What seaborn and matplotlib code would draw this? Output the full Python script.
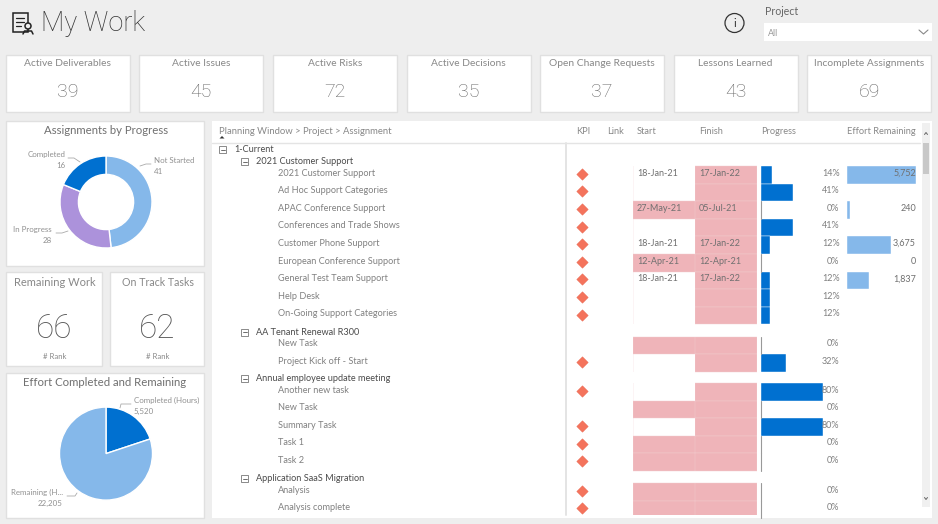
import matplotlib
matplotlib.use('Agg')
import matplotlib.pyplot as plt
from matplotlib.patches import Rectangle, Circle, Polygon
import seaborn as sns

W, H = 938, 524

# KPI cards
card_titles = ['Active Deliverables', 'Active Issues', 'Active Risks', 'Active Decisions',
               'Open Change Requests', 'Lessons Learned', 'Incomplete Assignments']
card_values = [39, 45, 72, 35, 37, 43, 69]

# donut and pie
progress_names = ['Not Started', 'In Progress', 'Completed']
progress_counts = [41, 28, 16]
effort_names = ['Completed (Hours)', 'Remaining (H...']
effort_hours = [5520, 22205]

# matrix
group_names = ['2021 Customer Support', 'AA Tenant Renewal R300',
               'Annual employee update meeting', 'Application SaaS Migration']
group_tasks = [
    ['2021 Customer Support', 'Ad Hoc Support Categories', 'APAC Conference Support',
     'Conferences and Trade Shows', 'Customer Phone Support', 'European Conference Support',
     'General Test Team Support', 'Help Desk', 'On-Going Support Categories'],
    ['New Task', 'Project Kick off - Start'],
    ['Another new task', 'New Task', 'Summary Task', 'Task 1', 'Task 2'],
    ['Analysis', 'Analysis complete'],
]
start_labels = ['18-Jan-21', '', '27-May-21', '', '18-Jan-21', '12-Apr-21', '18-Jan-21', '', '',
                '', '', '', '', '', '', '', '', '']
finish_labels = ['17-Jan-22', '', '05-Jul-21', '', '17-Jan-22', '12-Apr-21', '17-Jan-22', '', '',
                 '', '', '', '', '', '', '', '', '']
start_late = [0, 0, 1, 0, 0, 1, 0, 0, 0, 1, 0, 0, 1, 0, 1, 1, 1, 1]
finish_late = [1] * 18
kpi_flag = [1, 1, 1, 1, 1, 1, 1, 1, 1, 0, 1, 1, 0, 1, 1, 1, 1, 1]
progress_pct = [14, 41, 0, 41, 12, 0, 12, 12, 12, 0, 32, 80, 0, 80, 0, 0, 0, 0]
effort_remaining = [5752, 0, 240, 0, 3675, 0, 1837, 0, 0, 0, 0, 0, 0, 0, 0, 0, 0, 0]
effort_labels = ['5,752', '', '240', '', '3,675', '0', '1,837', '', '',
                 '', '', '', '', '', '', '', '', '']

BG = '#EEEEEE'
BLUE = '#0070D0'
LIGHT_BLUE = '#85B8EA'
PURPLE = '#AC92DB'
PINK = '#EFB4B9'
DIAMOND = '#F4735C'
GREY = '#808080'
DARK = '#4A4A4A'

sns.set_theme(style='white')
plt.rcParams['font.family'] = ['Lato', 'DejaVu Sans']

fig = plt.figure(figsize=(W / 100, H / 100), dpi=100, facecolor=BG)


def px_axes(x0, y0, x1, y1):
    ax = fig.add_axes([x0 / W, 1 - y1 / H, (x1 - x0) / W, (y1 - y0) / H])
    ax.patch.set_alpha(0)
    return ax


def clean(ax):
    ax.set_xlabel('')
    ax.set_ylabel('')
    ax.set_xticks([])
    ax.set_yticks([])
    for s in ax.spines.values():
        s.set_visible(False)


# whole figure in pixel coords for panels and text
base = px_axes(0, 0, W, H)
base.set_xlim(0, W)
base.set_ylim(H, 0)
base.axis('off')


def panel(x0, y0, x1, y1, edge='#E0E0E0'):
    base.add_patch(Rectangle((x0, y0), x1 - x0, y1 - y0, fc='white', ec=edge, lw=1))


def txt(x, y, s, size=6.4, color=GREY, ha='left', **kw):
    base.text(x, y + 0.8, s, fontsize=size, color=color, ha=ha, va='center', **kw)


BIG = {'family': 'Roboto', 'fontweight': 'light'}

# header
txt(41, 23, 'My Work', size=19.5, color='#333333', **BIG)
base.add_patch(Rectangle((12.5, 13), 15, 19, fc='none', ec='#222222', lw=1.1))
base.plot([16, 24], [18, 18], color='#222222', lw=0.9)
base.plot([16, 24], [22, 22], color='#222222', lw=0.9)
base.plot([16, 21], [26, 26], color='#222222', lw=0.9)
base.add_patch(Circle((28, 26), 3, fc=BG, ec='#222222', lw=1.1))
base.plot([23, 24.5, 31.5, 33], [34, 31, 31, 34], color='#222222', lw=1.1)
base.add_patch(Circle((734.5, 23), 9.5, fc='none', ec='#333333', lw=0.9))
txt(734.5, 23, 'i', size=8, color='#333333', ha='center')
txt(765, 10.5, 'Project', size=7.6, color='#666666')
base.add_patch(Rectangle((764, 23), 168, 18, fc='white', ec='none'))
txt(768, 33, 'All', size=6.4, color='#999999')
base.plot([919, 923.5, 928], [30, 34, 30], color='#888888', lw=0.8)

# cards
card_x = [6, 139, 273, 406.5, 540, 673.5, 807]
for x, title, value in zip(card_x, card_titles, card_values):
    panel(x, 55, x + 124, 112)
    txt(x + 62, 63, title, size=7.4, color='#888888', ha='center')
    txt(x + 62, 91, str(value), size=14, color='#666666', ha='center', **BIG)

# left panels
panel(6, 121, 204, 266)
panel(6, 272, 102, 366)
panel(110, 272, 204, 366)
panel(6, 373, 204, 518)
panel(212, 121, 932, 518, edge='none')
txt(106, 129.5, 'Assignments by Progress', size=8.2, color='#707070', ha='center')
txt(54.5, 282, 'Remaining Work', size=8, color='#888888', ha='center')
txt(158, 282, 'On Track Tasks', size=7.7, color='#888888', ha='center')
txt(54.5, 328, '66', size=24, color='#555555', ha='center', **BIG)
txt(157.5, 328, '62', size=24, color='#555555', ha='center', **BIG)
txt(54.5, 356, '# Rank', size=5.6, color='#888888', ha='center')
txt(157.5, 356, '# Rank', size=5.6, color='#888888', ha='center')
txt(105, 381.5, 'Effort Completed and Remaining', size=8.2, color='#707070', ha='center')

# donut
dax = px_axes(106 - 46, 202 - 46, 106 + 46, 202 + 46)
dax.pie(progress_counts, colors=[LIGHT_BLUE, PURPLE, BLUE], startangle=90, counterclock=False,
        radius=1, wedgeprops={'width': 0.4})
dax.set_xlim(-1, 1)
dax.set_ylim(-1, 1)
txt(153.5, 160, progress_names[0], size=5.7, color='#909090')
txt(153.5, 171, str(progress_counts[0]), size=5.7, color='#909090')
txt(65, 154, progress_names[2], size=5.7, ha='right', color='#909090')
txt(65, 165, str(progress_counts[2]), size=5.7, ha='right', color='#909090')
txt(52, 229, progress_names[1], size=5.7, ha='right', color='#909090')
txt(52, 240, str(progress_counts[1]), size=5.7, ha='right', color='#909090')
for xs, ys in [([140, 146, 151], [166, 164, 164]), ([80, 74, 68], [162, 158, 158]),
               ([68, 62, 56], [231, 233, 233])]:
    base.plot(xs, ys, color='#AAAAAA', lw=0.6)

# pie
pax = px_axes(106 - 46.5, 453.6 - 46.5, 106 + 46.5, 453.6 + 46.5)
pax.pie(effort_hours, colors=[BLUE, LIGHT_BLUE], startangle=90, counterclock=False, radius=1)
pax.set_xlim(-1, 1)
pax.set_ylim(-1, 1)
txt(134, 400, effort_names[0], size=5.7, color='#909090')
txt(134, 411, f'{effort_hours[0]:,}', size=5.7, color='#909090')
txt(63, 492, effort_names[1], size=5.7, ha='right', color='#909090')
txt(63, 503, f'{effort_hours[1]:,}', size=5.7, ha='right', color='#909090')
for xs, ys in [([120, 121, 131], [408, 404, 404]), ([77, 75, 67], [493, 496, 496])]:
    base.plot(xs, ys, color='#AAAAAA', lw=0.6)

# matrix header
txt(219, 130.5, 'Planning Window > Project > Assignment', size=6.8, color='#888888')
base.add_patch(Polygon([(219.5, 138.5), (222, 136), (224.5, 138.5)], fc='#333333', ec='none'))
for x, s in [(576, 'KPI'), (607, 'Link'), (637, 'Start'), (699, 'Finish'), (761, 'Progress'),
             (847, 'Effort Remaining')]:
    txt(x, 130.5, s, size=6.7, color='#888888')
base.plot([212, 920], [142.5, 142.5], color='#E4E4E4', lw=1)
base.plot([566, 566], [142.5, 515], color='#E4E4E4', lw=1.4)


def minus_box(x, y):
    base.add_patch(Rectangle((x - 3.5, y - 3.5), 7, 7, fc='white', ec='#777777', lw=0.6))
    base.plot([x - 2, x + 2], [y, y], color='#555555', lw=0.6)


minus_box(222.5, 149.5)
txt(234, 149, '1-Current', size=6.6, color=DARK)

# row positions inside the table
ROW_H = 17.6
group_tops = [166, 336.7, 383, 483]
row_y = []
for name, top, tasks in zip(group_names, group_tops, group_tasks):
    minus_box(244.5, top - 4.5)
    txt(256, top - 5, name, size=6.6, color=DARK)
    for i, task in enumerate(tasks):
        y = top + (i + 0.5) * ROW_H
        row_y.append(y)
        txt(278, y - 2.5, task, size=6.6)

TOP, BOTTOM = 143, 515


def hbars(x0, x1, xmax, values, color, edge='white'):
    ax = px_axes(x0, TOP, x1, BOTTOM)
    sns.barplot(x=values, y=row_y, orient='y', native_scale=True, width=1, color=color,
                saturation=1, ax=ax, edgecolor=edge, linewidth=0.3)
    ax.set_xlim(0, xmax)
    ax.set_ylim(BOTTOM, TOP)
    clean(ax)
    return ax


hbars(633, 695, 1, start_late, PINK, edge='#F3CDD0')
hbars(695, 757, 1, finish_late, PINK, edge='#F3CDD0')
prog_ax = hbars(761, 839, 100, progress_pct, BLUE)
for y, p in zip(row_y, progress_pct):
    if p == 0:
        prog_ax.plot([0, 0], [y - ROW_H / 2, y + ROW_H / 2], color='#999999', lw=0.8, clip_on=False)
hbars(847.3, 916, 5752, effort_remaining, LIGHT_BLUE)

# KPI diamonds
kpi_ax = px_axes(566, TOP, 600, BOTTOM + 3)
kpi_y = [y - 1 for y, k in zip(row_y, kpi_flag) if k]
sns.scatterplot(x=[0.5] * len(kpi_y), y=kpi_y, marker='D', s=34, color=DIAMOND,
                edgecolor='#E8654E', linewidth=0.3, ax=kpi_ax, legend=False)
kpi_ax.set_xlim(0, 1.0964)
kpi_ax.set_ylim(BOTTOM + 3, TOP)
clean(kpi_ax)

# row text over the bars
top_text = px_axes(0, 0, W, H)
top_text.set_xlim(0, W)
top_text.set_ylim(H, 0)
top_text.axis('off')
for y, s, f, p, e in zip(row_y, start_labels, finish_labels, progress_pct, effort_labels):
    ty = y - 1.7
    top_text.text(637, ty, s, fontsize=6.5, color='#707070', va='center')
    top_text.text(699, ty, f, fontsize=6.5, color='#707070', va='center')
    top_text.text(839.5, ty, f'{p}%', fontsize=6.5, color=GREY, va='center', ha='right')
    top_text.text(916, ty, e, fontsize=6.5, color='#707070', va='center', ha='right')

# scrollbar
base.add_patch(Rectangle((922, 123), 8, 384, fc='#F0F0F0', ec='none'))
base.add_patch(Rectangle((923, 143), 6, 31, fc='#C8C8C8', ec='none'))
base.plot([924.5, 926, 927.5], [134.5, 132.5, 134.5], color='#666666', lw=0.7)
base.plot([924.5, 926, 927.5], [497.5, 499.5, 497.5], color='#666666', lw=0.7)

fig.savefig('out.png', dpi=100, facecolor=BG)
